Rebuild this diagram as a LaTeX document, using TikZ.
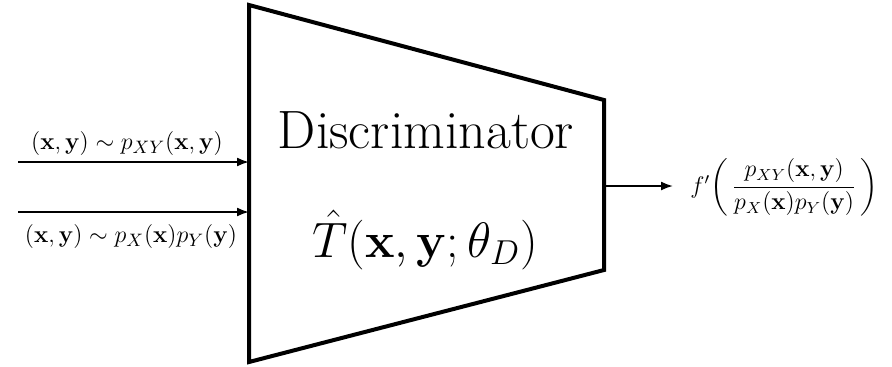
\documentclass[tikz,border=0pt]{standalone}
\usepackage{amsmath}
\usetikzlibrary{arrows.meta}
\begin{document}
\begin{tikzpicture}[x=0.5pt,y=-0.5pt,
  box/.style={line width=2pt, line join=miter},
  conn/.style={line width=0.9pt,-{Latex[length=6pt,width=4.5pt]}},
  lab/.style={inner sep=0pt, font=\fontsize{12.4}{15}\selectfont},
  outlab/.style={inner sep=0pt, font=\fontsize{11.7}{14}\selectfont},
  big/.style={inner sep=0pt, font=\fontsize{27}{32}\selectfont},
  mid/.style={inner sep=0pt, font=\fontsize{23.5}{28}\selectfont}]
\useasboundingbox (0,0) rectangle (892,366);
\coordinate (tl) at (249,5);
\coordinate (tr) at (604,100);
\coordinate (br) at (604,270);
\coordinate (bl) at (249,362);
\draw[box] (tl) -- (tr) -- (br) -- (bl) -- cycle;
\node[big] (title) at (426,130) {Discriminator};
\node[mid] (tfun) at (425,240) {$\hat{T}(\mathbf{x},\mathbf{y};\theta_D)$};
\coordinate (in1s) at (18,162);
\coordinate (in1e) at (249,162);
\coordinate (in2s) at (18,212);
\coordinate (in2e) at (249,212);
\draw[conn] (in1s) -- (in1e);
\draw[conn] (in2s) -- (in2e);
\node[lab] (l1) at (127,143) {$(\mathbf{x},\mathbf{y})\sim p_{XY}(\mathbf{x},\mathbf{y})$};
\node[lab] (l2) at (131,236) {$(\mathbf{x},\mathbf{y})\sim p_{X}(\mathbf{x})p_{Y}(\mathbf{y})$};
\coordinate (outs) at (604,186);
\coordinate (oute) at (673,186);
\node[outlab, anchor=west] (out) at (690,187) {$f'\!\left(\,\dfrac{p_{XY}(\mathbf{x},\mathbf{y})}{p_X(\mathbf{x})p_Y(\mathbf{y})}\,\right)$};
\draw[conn] (outs) -- (oute);
\end{tikzpicture}
\end{document}
